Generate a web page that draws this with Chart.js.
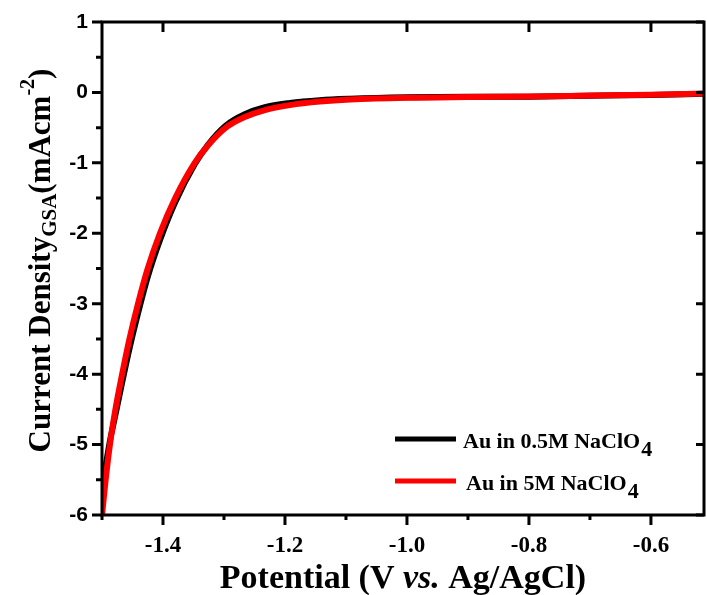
<!DOCTYPE html>
<html>
<head>
<meta charset="utf-8">
<title>LSV Au NaClO4</title>
<script src="https://cdn.jsdelivr.net/npm/chart.js@4.4.1/dist/chart.umd.min.js"></script>
<style>
  html, body { margin: 0; padding: 0; background: #fff; }
  #wrap { width: 707px; height: 595px; }
</style>
</head>
<body>
<div id="wrap"><canvas id="lsvChart" width="707" height="595"></canvas></div>
<script>
// potential (V vs. Ag/AgCl) shared by both sweeps
const potential = [
  -1.500, -1.494, -1.487, -1.478, -1.467, -1.455, -1.441, -1.425, -1.405, -1.380,
  -1.348, -1.326, -1.297, -1.266, -1.233, -1.192, -1.143, -1.093, -1.000, -0.900,
  -0.800, -0.700, -0.600, -0.513
]
// current density, mA/cm^2
const current05M = [
  -5.59, -5.30, -4.95, -4.58, -4.12, -3.64, -3.14, -2.62, -2.10, -1.56,
  -1.02, -0.74, -0.47, -0.31, -0.21, -0.15, -0.11, -0.09, -0.070, -0.062,
  -0.060, -0.048, -0.035, -0.020
]
const current5M = [
  -6.00, -5.50, -5.00, -4.50, -4.00, -3.50, -3.00, -2.50, -2.00, -1.50,
  -1.00, -0.75, -0.50, -0.35, -0.25, -0.18, -0.13, -0.10, -0.075, -0.065,
  -0.058, -0.045, -0.032, -0.015
]
const xTicks = [-1.4, -1.2, -1.0, -0.8, -0.6]
const xMinor = [-1.5, -1.3, -1.1, -0.9, -0.7]
const yTicks = [1, 0, -1, -2, -3, -4, -5, -6]
const legendLabels = ['Au in 0.5M NaClO', 'Au in 5M NaClO']

const serif = '"Liberation Serif", "Times New Roman", serif'
const sans = '"Liberation Sans", Arial, sans-serif'

const toPoints = ys => potential.map((x, i) => ({ x: x, y: ys[i] }))

// frame, tick marks, axis titles and legend
const decor = {
  id: 'decor',
  afterDraw(chart) {
    const ctx = chart.ctx
    const { left, right, top, bottom } = chart.chartArea
    const xs = chart.scales.x, ys = chart.scales.y
    ctx.save()
    ctx.strokeStyle = '#000'
    ctx.lineWidth = 3
    ctx.lineCap = 'butt'
    ctx.beginPath()
    ctx.rect(left, top, right - left, bottom - top)
    ctx.stroke()

    ctx.beginPath()
    xTicks.forEach(v => {
      const px = xs.getPixelForValue(v)
      ctx.moveTo(px, bottom); ctx.lineTo(px, bottom + 10)
      ctx.moveTo(px, top); ctx.lineTo(px, top + 10)
    })
    xMinor.forEach(v => {
      const px = xs.getPixelForValue(v)
      ctx.moveTo(px, bottom); ctx.lineTo(px, bottom + 5)
    })
    yTicks.forEach(v => {
      const py = ys.getPixelForValue(v)
      ctx.moveTo(left, py); ctx.lineTo(left - 10, py)
      ctx.moveTo(right, py); ctx.lineTo(right - 8, py)
      if (v > -6) {
        const pm = ys.getPixelForValue(v - 0.5)
        ctx.moveTo(left, pm); ctx.lineTo(left - 6, pm)
      }
    })
    ctx.stroke()

    // x title
    ctx.fillStyle = '#000'
    ctx.textBaseline = 'alphabetic'
    ctx.textAlign = 'left'
    const parts = [
      ['bold 34px ' + serif, 'Potential (V '],
      ['italic bold 34px ' + serif, 'vs.'],
      ['bold 34px ' + serif, ' Ag/AgCl)']
    ]
    let w = 0
    parts.forEach(p => { ctx.font = p[0]; w += ctx.measureText(p[1]).width })
    let cx = (left + right) / 2 - w / 2
    parts.forEach(p => {
      ctx.font = p[0]
      ctx.fillText(p[1], cx, 588)
      cx += ctx.measureText(p[1]).width
    })

    // y title, rotated
    const yParts = [
      ['bold 31px ' + serif, 'Current Density', 0],
      ['bold 21px ' + serif, 'GSA', 6],
      ['bold 31px ' + serif, '(mAcm', 0],
      ['bold 20px ' + serif, '-2', -16],
      ['bold 31px ' + serif, ')', 0]
    ]
    w = 0
    yParts.forEach(p => { ctx.font = p[0]; w += ctx.measureText(p[1]).width })
    ctx.translate(50, (top + bottom) / 2 - 8)
    ctx.rotate(-Math.PI / 2)
    cx = -w / 2
    yParts.forEach(p => {
      ctx.font = p[0]
      ctx.fillText(p[1], cx, p[2])
      cx += ctx.measureText(p[1]).width
    })
    ctx.setTransform(1, 0, 0, 1, 0, 0)

    // legend
    const rows = [
      { color: '#000000', y: 439, tx: 463, text: legendLabels[0] },
      { color: '#ff0000', y: 481, tx: 466, text: legendLabels[1] }
    ]
    rows.forEach(r => {
      ctx.strokeStyle = r.color
      ctx.lineWidth = 5
      ctx.beginPath()
      ctx.moveTo(395, r.y); ctx.lineTo(456, r.y)
      ctx.stroke()
      ctx.font = 'bold 22px ' + serif
      ctx.fillText(r.text, r.tx, r.y + 9)
      const tw = ctx.measureText(r.text).width
      ctx.fillText('4', r.tx + tw + 1, r.y + 17)
    })
    ctx.restore()
  }
}

const lsvChart = new Chart(document.getElementById('lsvChart'), {
  type: 'line',
  data: {
    datasets: [
      {
        label: legendLabels[1],
        data: toPoints(current5M),
        borderColor: '#ff0000',
        borderWidth: 6,
        pointRadius: 0,
        cubicInterpolationMode: 'monotone'
      },
      {
        label: legendLabels[0],
        data: toPoints(current05M),
        borderColor: '#000000',
        borderWidth: 6,
        pointRadius: 0,
        cubicInterpolationMode: 'monotone'
      }
    ]
  },
  options: {
    responsive: false,
    animation: false,
    layout: { padding: { left: 0, right: 3, top: 22, bottom: 0 } },
    plugins: { legend: { display: false }, tooltip: { enabled: false } },
    scales: {
      x: {
        type: 'linear',
        min: -1.5,
        max: -0.513,
        grid: { display: false },
        border: { display: false },
        afterBuildTicks: s => { s.ticks = xTicks.map(v => ({ value: v })) },
        afterFit: s => { s.height = 80 },
        ticks: {
          color: '#000',
          padding: 9,
          maxRotation: 0,
          font: { family: serif, size: 23, weight: 'bold' },
          callback: v => v.toFixed(1)
        }
      },
      y: {
        min: -6,
        max: 1,
        grid: { display: false },
        border: { display: false },
        afterBuildTicks: s => { s.ticks = yTicks.map(v => ({ value: v })) },
        afterFit: s => { s.width = 102 },
        ticks: {
          color: '#000',
          padding: 6,
          font: { family: sans, size: 21, weight: 'bold' },
          callback: v => String(v)
        }
      }
    }
  },
  plugins: [decor]
})
</script>
</body>
</html>
